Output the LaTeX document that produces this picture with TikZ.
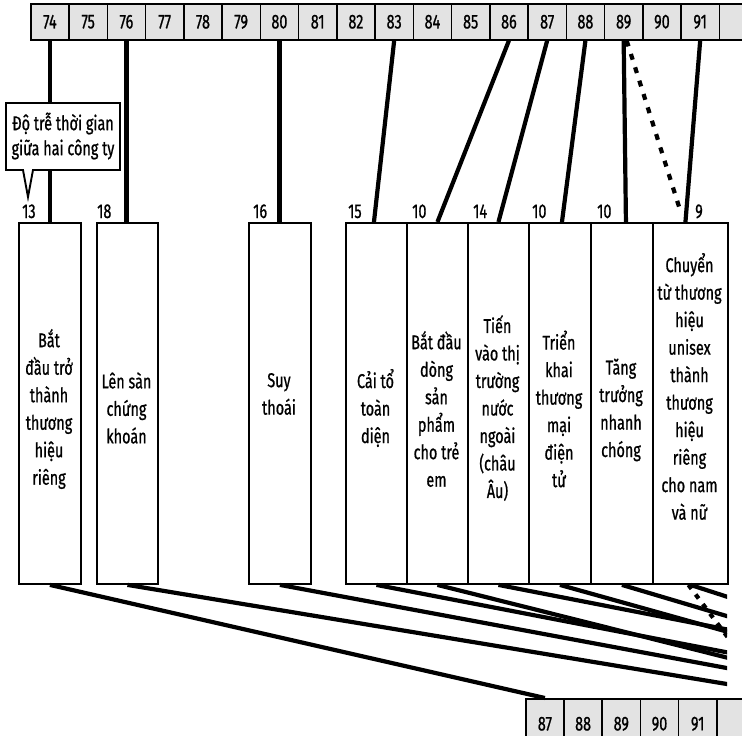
\documentclass[tikz,border=0pt]{standalone}
\usepackage{fontspec}
\setmainfont{Fira Sans}[FakeStretch=0.72, FakeBold=0.8]
\newcommand{\fsmain}{\fontsize{20}{27.5}\selectfont}
\newcommand{\fscall}{\fontsize{20}{25}\selectfont}
\begin{document}
\begin{tikzpicture}[x=1pt,y=-1pt,
  every node/.style={font=\fsmain, inner sep=0pt},
  cell/.style={draw, line width=1.6pt, fill=gray!22, minimum width=38.25pt, minimum height=36pt, anchor=north west},
  bcell/.style={draw, line width=1.6pt, fill=gray!22, minimum width=38.2pt, minimum height=50pt, anchor=north west},
  evbox/.style={draw, line width=1.9pt, fill=white, minimum height=361pt, anchor=north west},
  conn/.style={line width=4.2pt},
  dconn/.style={line width=4.2pt, dash pattern=on 6pt off 8pt},
  yrlabel/.style={anchor=base west},
  evtext/.style={align=center}]
\useasboundingbox (0,0) rectangle (742,736);

% top year strip
\foreach \n [count=\i from 0] in {74,...,92}
  \node[cell] (c\n) at ({30+\i*38.25},3) {\ifnum\n<92 \n\fi};

% bottom year strip
\foreach \n [count=\i from 0] in {87,...,92}
  \node[bcell] (d\n) at ({525+\i*38.2},698) {\ifnum\n<92 \n\fi};
\foreach \n in {88,...,101}
  \coordinate (y\n) at ({544.1+(\n-87)*38.2},698);

% event boxes
\node[evbox, minimum width=62pt] (b13) at (18,222) {};
\node[evbox, minimum width=61pt] (b18) at (96,222) {};
\node[evbox, minimum width=62pt] (b16) at (248,222) {};
\node[evbox, minimum width=61pt] (b15) at (345,222) {};
\node[evbox, minimum width=61pt] (b10a) at (406,222) {};
\node[evbox, minimum width=61pt] (b14) at (467,222) {};
\node[evbox, minimum width=62pt] (b10b) at (528,222) {};
\node[evbox, minimum width=62pt] (b10c) at (590,222) {};
\node[evbox, minimum width=75pt] (b9) at (652,222) {};

% texts in boxes
\node[evtext] (t13) at (49,409) {Bắt\\đầu trở\\thành\\thương\\hiệu\\riêng};
\node[evtext] (t18) at (126.5,408) {Lên sàn\\chứng\\khoán};
\node[evtext] (t16) at (279,394) {Suy\\thoái};
\node[evtext] (t15) at (375.5,408) {Cải tổ\\toàn\\diện};
\node[evtext] (t10a) at (436.5,409) {Bắt đầu\\dòng\\sản\\phẩm\\cho trẻ\\em};
\node[evtext] (t14) at (497.5,408) {Tiến\\vào thị\\trường\\nước\\ngoài\\(châu\\Âu)};
\node[evtext] (t10b) at (559,409) {Triển\\khai\\thương\\mại\\điện\\tử};
\node[evtext] (t10c) at (621,410) {Tăng\\trưởng\\nhanh\\chóng};
\node[evtext] (t9) at (689.5,386.5) {Chuyển\\từ thương\\hiệu\\unisex\\thành\\thương\\hiệu\\riêng\\cho nam\\và nữ};

% duration labels
\node[yrlabel] (l13) at (22,218) {13};
\node[yrlabel] (l18) at (97,218) {18};
\node[yrlabel] (l16) at (253,218) {16};
\node[yrlabel] (l15) at (348,218) {15};
\node[yrlabel] (l10a) at (412,218) {10};
\node[yrlabel] (l14) at (473,218) {14};
\node[yrlabel] (l10b) at (532,218) {10};
\node[yrlabel] (l10c) at (597,218) {10};
\node[yrlabel] (l9) at (695,218) {9};

% connectors from the top strip
\draw[conn] (c74.south) -- (c74.south |- b13.north);
\draw[conn] (c76.south) -- (c76.south |- b18.north);
\draw[conn] (c80.south) -- (c80.south |- b16.north);
\draw[conn] (c83.south) -- ([xshift=-2.5pt]b15.north);
\draw[conn] (c86.south) -- (b10a.north);
\draw[conn] (c87.south) -- (b14.north);
\draw[conn] (c88.south) -- ([xshift=2pt]b10b.north);
\draw[conn] (c89.south) -- ([xshift=4pt]b10c.north);
\draw[conn] (c91.south) -- ([xshift=-5pt]b9.north);
\coordinate (dend) at (681,213);
\draw[dconn] ([xshift=3pt]c89.south) -- (dend);

% connectors to the bottom strip
\begin{scope}
  \clip (0,500) rectangle (727,736);
  \draw[conn] (b13.south) -- (d87.north);
  \draw[conn] (b18.south) -- (y94);
  \draw[conn] (b16.south) -- (y96);
  \draw[conn] (b15.south) -- (y98);
  \draw[conn] (b10a.south) -- (y96);
  \draw[conn] (b14.south) -- (y101);
  \draw[conn] (b10b.south) -- (y98);
  \draw[conn] (b10c.south) -- (y99);
  \draw[conn] (b9.south) -- (y100);
  \draw[dconn, dash pattern=on 5pt off 7pt] ([xshift=-2pt]b9.south) -- (y93);
\end{scope}

% callout
\draw[line width=1.9pt, fill=white] (6,103) -- (120,103) -- (120,170) -- (33,170)
  -- (28,197) -- (23,170) -- (6,170) -- cycle;
\node[align=center, font=\fscall] (callout) at (63,136) {Độ trễ thời gian\\giữa hai công ty};
\end{tikzpicture}
\end{document}
